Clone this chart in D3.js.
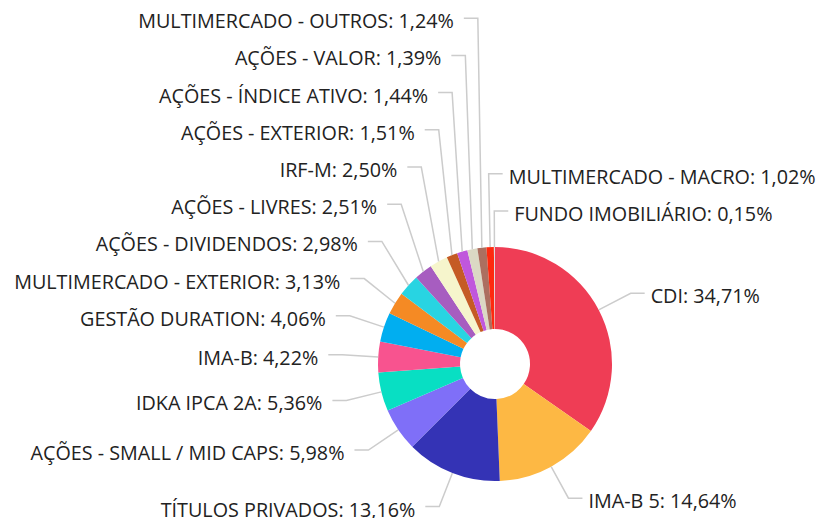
<!DOCTYPE html>
<html>
<head>
<meta charset="utf-8">
<script src="https://cdn.jsdelivr.net/npm/d3@7"></script>
<style>
  html, body { margin: 0; padding: 0; background: #fff; }
  svg { display: block; }
  text { font-family: "Open Sans", "Noto Sans", sans-serif; }
</style>
</head>
<body>
<svg id="chart" width="818" height="518"></svg>
<script>
const categories = [
  "CDI", "IMA-B 5", "TÍTULOS PRIVADOS", "AÇÕES - SMALL / MID CAPS", "IDKA IPCA 2A",
  "IMA-B", "GESTÃO DURATION", "MULTIMERCADO - EXTERIOR", "AÇÕES - DIVIDENDOS",
  "AÇÕES - LIVRES", "IRF-M", "AÇÕES - EXTERIOR", "AÇÕES - ÍNDICE ATIVO",
  "AÇÕES - VALOR", "MULTIMERCADO - OUTROS", "MULTIMERCADO - MACRO", "FUNDO IMOBILIÁRIO"
];
const values = [34.71, 14.64, 13.16, 5.98, 5.36, 4.22, 4.06, 3.13, 2.98, 2.51, 2.50, 1.51, 1.44, 1.39, 1.24, 1.02, 0.15];
const colors = [
  "#ef3d55", "#fdb844", "#3433b5", "#7f6ff8", "#08dfc3", "#f8538f", "#01aef0",
  "#f58a24", "#28d4e2", "#a75dc0", "#f6f5cc", "#c55b25", "#c057dc", "#dbd8c4",
  "#ac6f60", "#fe2a0f", "#dcdcdc"
];

const W = 818, H = 518;
const cx = 495, cy = 364;
const rOuter = 117, rInner = 35;
const lineLen = 36, len2 = 14;
const gapLeft = 10, gapRight = 6;
const spacing = 37.2;
const fontSize = 19.75;

const data = categories.map((c, i) => ({ name: c, value: values[i], color: colors[i] }));

const svg = d3.select("#chart");
const g = svg.append("g").attr("transform", `translate(${cx},${cy})`);

const pie = d3.pie().sort(null).value(d => d.value);
const arcs = pie(data);
const arc = d3.arc().innerRadius(rInner).outerRadius(rOuter);

g.selectAll("path.slice")
  .data(arcs)
  .join("path")
  .attr("class", "slice")
  .attr("d", arc)
  .attr("fill", d => d.data.color);

// label layout
const R2 = rOuter + lineLen;
const labels = arcs.map(a => {
  const m = (a.startAngle + a.endAngle) / 2;
  const s = Math.sin(m), c = -Math.cos(m);
  const side = s > -0.05 ? 1 : -1;
  return {
    arc: a,
    side,
    p0: [s * rOuter, c * rOuter],
    ex: s * R2,
    ny: c * R2,
    y: c * R2,
    text: `${a.data.name}: ${a.data.value.toFixed(2).replace(".", ",")}%`
  };
});

[1, -1].forEach(side => {
  const list = labels.filter(l => l.side === side)
    .sort((a, b) => (Math.round(a.ny) - Math.round(b.ny)) || (a.arc.index - b.arc.index));
  for (let i = list.length - 2; i >= 0; i--) {
    list[i].y = Math.min(list[i].y, list[i + 1].y - spacing);
  }
});

const lineGen = d3.line();
g.selectAll("path.leader")
  .data(labels)
  .join("path")
  .attr("class", "leader")
  .attr("d", l => lineGen([l.p0, [l.ex, l.y], [l.ex + l.side * len2, l.y]]))
  .attr("fill", "none")
  .attr("stroke", "#cccccc")
  .attr("stroke-width", 1.5);

g.selectAll("text.lbl")
  .data(labels)
  .join("text")
  .attr("class", "lbl")
  .attr("x", l => l.ex + l.side * (len2 + (l.side > 0 ? gapRight : gapLeft)))
  .attr("y", l => l.y + 10)
  .attr("text-anchor", l => l.side > 0 ? "start" : "end")
  .attr("font-size", fontSize)
  .attr("fill", "#222")
  .text(l => l.text);
</script>
</body>
</html>
